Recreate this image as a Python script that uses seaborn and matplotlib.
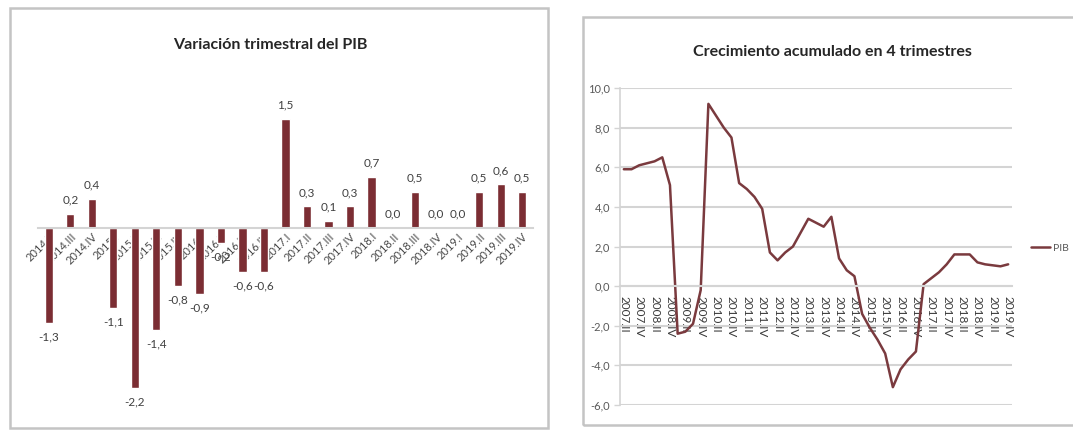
import matplotlib
matplotlib.use("Agg")
import matplotlib.pyplot as plt
from matplotlib.patches import Rectangle
import numpy as np
import pandas as pd
import seaborn as sns

# ---------------- data ----------------
bar_categories = ["2014.II", "2014.III", "2014.IV", "2015.I", "2015.II", "2015.III",
                  "2015.IV", "2016.I", "2016.II", "2016.III", "2016.IV", "2017.I",
                  "2017.II", "2017.III", "2017.IV", "2018.I", "2018.II", "2018.III",
                  "2018.IV", "2019.I", "2019.II", "2019.III", "2019.IV"]
bar_values = [-1.3, 0.2, 0.4, -1.1, -2.2, -1.4, -0.8, -0.9, -0.2, -0.6, -0.6, 1.5,
              0.3, 0.1, 0.3, 0.7, 0.0, 0.5, 0.0, 0.0, 0.5, 0.6, 0.5]

line_categories = ["2007.II", "2007.III", "2007.IV",
                   "2008.I", "2008.II", "2008.III", "2008.IV",
                   "2009.I", "2009.II", "2009.III", "2009.IV",
                   "2010.I", "2010.II", "2010.III", "2010.IV",
                   "2011.I", "2011.II", "2011.III", "2011.IV",
                   "2012.I", "2012.II", "2012.III", "2012.IV",
                   "2013.I", "2013.II", "2013.III", "2013.IV",
                   "2014.I", "2014.II", "2014.III", "2014.IV",
                   "2015.I", "2015.II", "2015.III", "2015.IV",
                   "2016.I", "2016.II", "2016.III", "2016.IV",
                   "2017.I", "2017.II", "2017.III", "2017.IV",
                   "2018.I", "2018.II", "2018.III", "2018.IV",
                   "2019.I", "2019.II", "2019.III", "2019.IV"]
line_values = [5.9, 5.9, 6.1, 6.2, 6.3, 6.5, 5.1, -2.4, -2.3, -1.9, -0.2,
               9.2, 8.6, 8.0, 7.5, 5.2, 4.9, 4.5, 3.9, 1.7, 1.3, 1.7, 2.0,
               2.7, 3.4, 3.2, 3.0, 3.5, 1.4, 0.8, 0.5, -1.4, -2.1, -2.7, -3.4,
               -5.1, -4.2, -3.7, -3.3, 0.1, 0.4, 0.7, 1.1, 1.6, 1.6, 1.6, 1.2,
               1.1, 1.05, 1.0, 1.1]
line_yticks = [-6, -4, -2, 0, 2, 4, 6, 8, 10]
series_name = "PIB"

left_title = "Variación trimestral del PIB"
right_title = "Crecimiento acumulado en 4 trimestres"

# ---------------- style ----------------
sns.set_theme(style="white")
plt.rcParams["font.family"] = ["Lato", "DejaVu Sans"]

BAR_COLOR = "#7b2d33"
LINE_COLOR = "#7a3a3e"
TEXT_GRAY = "#595959"
GRID_GRAY = "#d4d4d4"
FRAME_GRAY = "#c4c4c4"

W, H = 1073, 432
fig = plt.figure(figsize=(W / 100, H / 100), dpi=100)
fig.patch.set_facecolor("white")


def fx(px):
    return px / W


def fy(py):
    return 1 - py / H


def comma(v):
    return f"{v:.1f}".replace(".", ",")


# chart frames
fig.patches.append(Rectangle((fx(10), fy(428)), fx(538), 420 / H, transform=fig.transFigure,
                             fill=False, edgecolor=FRAME_GRAY, linewidth=1.8))
fig.patches.append(Rectangle((fx(583), fy(425)), fx(500), 408 / H, transform=fig.transFigure,
                             fill=False, edgecolor=FRAME_GRAY, linewidth=1.8))

# ---------------- left: bar chart ----------------
ax1 = fig.add_axes([fx(38), fy(410), fx(495), 327.4 / H])
df_bar = pd.DataFrame({"trimestre": bar_categories, "valor": bar_values})
sns.barplot(data=df_bar, x="trimestre", y="valor", color=BAR_COLOR, width=0.38,
            saturation=1, ax=ax1)
ax1.set_xlim(-0.5, len(bar_categories) - 0.5)
ax1.set_ylim(-2.5, 2.0)
ax1.set_xlabel("")
ax1.set_ylabel("")
ax1.set_yticks([])
for s in ["top", "right", "left"]:
    ax1.spines[s].set_visible(False)
ax1.spines["bottom"].set_position(("data", 0))
ax1.spines["bottom"].set_color(GRID_GRAY)
ax1.spines["bottom"].set_linewidth(1.5)
ax1.tick_params(axis="x", length=0, pad=2, labelsize=8, labelcolor="#4a4a4a")
for lab in ax1.get_xticklabels():
    lab.set_rotation(45)
    lab.set_ha("right")
    lab.set_va("top")
    lab.set_rotation_mode("anchor")
ax1.bar_label(ax1.containers[0], labels=[comma(v) for v in bar_values], padding=6,
              fontsize=8.5, color="#404040")
ax1.patch.set_alpha(0)

fig.text(fx(270), fy(45), left_title, ha="center", va="center", fontsize=11.5,
         fontweight="bold", color="#262626")

# ---------------- right: line chart ----------------
ax2 = fig.add_axes([fx(620), fy(405), fx(392), 317 / H])
df_line = pd.DataFrame({"idx": np.arange(len(line_values)), "valor": line_values})
sns.lineplot(data=df_line, x="idx", y="valor", color=LINE_COLOR, linewidth=1.8,
             ax=ax2, label=series_name, legend=False)
ax2.set_xlim(-0.5, len(line_values) - 0.5)
ax2.set_ylim(min(line_yticks), max(line_yticks))
ax2.set_yticks(line_yticks)
ax2.set_yticklabels([comma(v) for v in line_yticks])
ax2.set_xlabel("")
ax2.set_ylabel("")
ax2.grid(axis="y", color=GRID_GRAY, linewidth=1.5)
ax2.grid(axis="x", visible=False)
for s in ["top", "right"]:
    ax2.spines[s].set_visible(False)
ax2.spines["left"].set_color(GRID_GRAY)
ax2.spines["left"].set_linewidth(1.2)
ax2.spines["bottom"].set_position(("data", 0))
ax2.spines["bottom"].set_color(GRID_GRAY)
ax2.spines["bottom"].set_linewidth(1.5)
tick_idx = list(range(0, len(line_categories), 2))
ax2.set_xticks(tick_idx)
ax2.set_xticklabels([line_categories[i] for i in tick_idx], rotation=-90,
                    ha="center", va="top")
ax2.tick_params(axis="x", length=3, width=1, color=GRID_GRAY, pad=4, labelsize=8.5,
                labelcolor="#3a3a3a")
ax2.tick_params(axis="y", length=4, width=1, color=GRID_GRAY, pad=3, labelsize=8,
                labelcolor=TEXT_GRAY, left=True)
ax2.set_axisbelow(True)
ax2.patch.set_alpha(0)

handles, labels = ax2.get_legend_handles_labels()
fig.legend(handles, labels, loc="center left", bbox_to_anchor=(fx(1022), fy(248)),
           frameon=False, fontsize=7.5, handlelength=1.8, handletextpad=0.3,
           labelcolor=TEXT_GRAY)

fig.text(fx(832), fy(52), right_title, ha="center", va="center", fontsize=11.5,
         fontweight="bold", color="#262626")

fig.savefig("out.png", dpi=100, facecolor="white")
